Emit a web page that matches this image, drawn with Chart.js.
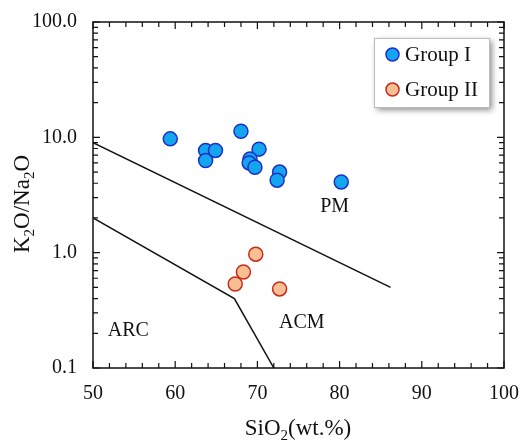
<!DOCTYPE html>
<html>
<head>
<meta charset="utf-8">
<script src="https://cdn.jsdelivr.net/npm/chart.js@4"></script>
<style>
  html, body { margin: 0; padding: 0; background: #fff; }
  #wrap { width: 528px; height: 441px; }
</style>
</head>
<body>
<div id="wrap"><canvas id="chart" width="528" height="441"></canvas></div>
<script>
// data
const groupOneSiO2 = [59.4, 63.7, 63.7, 64.9, 68.0, 70.2, 69.1, 69.0, 69.7, 72.7, 72.4, 80.2];
const groupOneRatio = [9.7, 7.7, 6.3, 7.7, 11.3, 7.9, 6.5, 6.0, 5.5, 5.0, 4.25, 4.1];
const groupTwoSiO2 = [69.8, 68.3, 67.3, 72.7];
const groupTwoRatio = [0.97, 0.68, 0.535, 0.485];

const upperLineSiO2 = [50, 86.2];
const upperLineRatio = [9, 0.5];
const lowerLineSiO2 = [50, 67.2, 72.0];
const lowerLineRatio = [2, 0.4, 0.1];

const xTickValues = [50, 60, 70, 80, 90, 100];
const yTickValues = [0.1, 1, 10, 100];
const yTickLabels = ["0.1", "1.0", "10.0", "100.0"];

const fieldNames = ["PM", "ACM", "ARC"];
const fieldSiO2 = [79.4, 75.4, 54.3];
const fieldRatio = [2.5, 0.247, 0.21];

const serif = "'Liberation Serif', 'Times New Roman', serif";

function pts(xs, ys) {
    return xs.map((x, i) => ({ x: x, y: ys[i] }));
}

// inward ticks on all four sides + frame
const framePlugin = {
    id: "frame",
    afterDatasetsDraw(chart) {
        const { ctx, chartArea: a, scales } = chart;
        const xs = scales.x, ys = scales.y;
        ctx.save();
        ctx.strokeStyle = "#111";
        ctx.lineWidth = 1.5;
        ctx.strokeRect(a.left, a.top, a.right - a.left, a.bottom - a.top);
        ctx.lineWidth = 1.2;
        ctx.beginPath();
        for (let v = 50; v <= 100; v += 2) {
            const px = xs.getPixelForValue(v);
            const len = v % 10 === 0 ? 7 : 5;
            ctx.moveTo(px, a.bottom); ctx.lineTo(px, a.bottom - len);
            ctx.moveTo(px, a.top); ctx.lineTo(px, a.top + len);
        }
        for (let d = 0.1; d < 100; d *= 10) {
            for (let m = 1; m <= 10; m++) {
                const v = d * m;
                if (v > 100.0001) continue;
                const py = ys.getPixelForValue(v);
                const len = (m === 1 || m === 10) ? 7 : 5;
                ctx.moveTo(a.left, py); ctx.lineTo(a.left + len, py);
                ctx.moveTo(a.right, py); ctx.lineTo(a.right - len, py);
            }
        }
        ctx.stroke();

        // field labels
        ctx.fillStyle = "#111";
        ctx.font = "20px " + serif;
        ctx.textAlign = "center";
        ctx.textBaseline = "middle";
        fieldNames.forEach((n, i) => {
            ctx.fillText(n, xs.getPixelForValue(fieldSiO2[i]), ys.getPixelForValue(fieldRatio[i]));
        });

        // axis titles with subscripts
        function subText(parts, x, y, size) {
            let w = 0;
            parts.forEach(p => {
                ctx.font = (p.sub ? Math.round(size * 0.65) : size) + "px " + serif;
                w += ctx.measureText(p.t).width;
            });
            let cx = x - w / 2;
            ctx.textAlign = "left";
            parts.forEach(p => {
                ctx.font = (p.sub ? Math.round(size * 0.65) : size) + "px " + serif;
                ctx.fillText(p.t, cx, p.sub ? y + size * 0.3 : y);
                cx += ctx.measureText(p.t).width;
            });
        }
        ctx.textBaseline = "middle";
        subText([{ t: "SiO" }, { t: "2", sub: true }, { t: "(wt.%)" }], 298, 429, 23);
        ctx.save();
        ctx.translate(23, 204);
        ctx.rotate(-Math.PI / 2);
        subText([{ t: "K" }, { t: "2", sub: true }, { t: "O/Na" }, { t: "2", sub: true }, { t: "O" }], 0, 0, 23);
        ctx.restore();

        // legend box with shadow
        const lx = 374, ly = 38, lw = 115, lh = 69;
        ctx.save();
        ctx.shadowColor = "rgba(0,0,0,0.45)";
        ctx.shadowBlur = 6;
        ctx.shadowOffsetX = 3;
        ctx.shadowOffsetY = 3;
        ctx.fillStyle = "#fff";
        ctx.fillRect(lx, ly, lw, lh);
        ctx.restore();
        ctx.strokeStyle = "#bbb";
        ctx.lineWidth = 1;
        ctx.strokeRect(lx + 0.5, ly + 0.5, lw, lh);
        const items = chart.data.datasets.filter(ds => ds.legendLabel);
        items.forEach((ds, i) => {
            const cy = ly + 16.5 + i * 35;
            ctx.beginPath();
            ctx.arc(lx + 18.5, cy, 6.5, 0, Math.PI * 2);
            ctx.fillStyle = ds.backgroundColor;
            ctx.fill();
            ctx.lineWidth = 1.5;
            ctx.strokeStyle = ds.borderColor;
            ctx.stroke();
            ctx.fillStyle = "#111";
            ctx.font = "21px " + serif;
            ctx.textAlign = "left";
            ctx.textBaseline = "middle";
            ctx.fillText(ds.legendLabel, lx + 31, cy + 1);
        });
        ctx.restore();
    }
};

const ctx = document.getElementById("chart");

new Chart(ctx, {
    type: "scatter",
    data: {
        datasets: [
            {
                type: "line",
                data: pts(upperLineSiO2, upperLineRatio),
                borderColor: "#111",
                borderWidth: 1.5,
                pointRadius: 0,
                fill: false
            },
            {
                type: "line",
                data: pts(lowerLineSiO2, lowerLineRatio),
                borderColor: "#111",
                borderWidth: 1.5,
                pointRadius: 0,
                fill: false
            },
            {
                legendLabel: "Group I",
                data: pts(groupOneSiO2, groupOneRatio),
                backgroundColor: "#13a5ee",
                borderColor: "#1d2fc6",
                borderWidth: 1.5,
                pointRadius: 7
            },
            {
                legendLabel: "Group II",
                data: pts(groupTwoSiO2, groupTwoRatio),
                backgroundColor: "#f8bf93",
                borderColor: "#c9291d",
                borderWidth: 1.5,
                pointRadius: 7
            }
        ]
    },
    options: {
        responsive: false,
        animation: false,
        layout: { padding: { top: 22, right: 24, left: 0, bottom: 0 } },
        plugins: {
            legend: { display: false },
            tooltip: { enabled: false }
        },
        scales: {
            x: {
                type: "linear",
                min: 50,
                max: 100,
                afterBuildTicks: s => { s.ticks = xTickValues.map(v => ({ value: v })); },
                afterFit: s => {
                    s.height = 73;
                    s.paddingLeft = 0;
                    s.paddingRight = 0;
                },
                grid: { display: false, drawTicks: false },
                border: { display: false },
                ticks: {
                    padding: 14,
                    color: "#111",
                    font: { family: serif, size: 20 }
                }
            },
            y: {
                type: "logarithmic",
                min: 0.1,
                max: 100,
                afterBuildTicks: s => { s.ticks = yTickValues.map(v => ({ value: v })); },
                afterFit: s => {
                    s.width = 93;
                    s.paddingTop = 0;
                    s.paddingBottom = 0;
                },
                grid: { display: false, drawTicks: false },
                border: { display: false },
                ticks: {
                    padding: 16,
                    color: "#111",
                    font: { family: serif, size: 20 },
                    callback: v => yTickLabels[yTickValues.indexOf(v)]
                }
            }
        }
    },
    plugins: [framePlugin]
});
</script>
</body>
</html>
